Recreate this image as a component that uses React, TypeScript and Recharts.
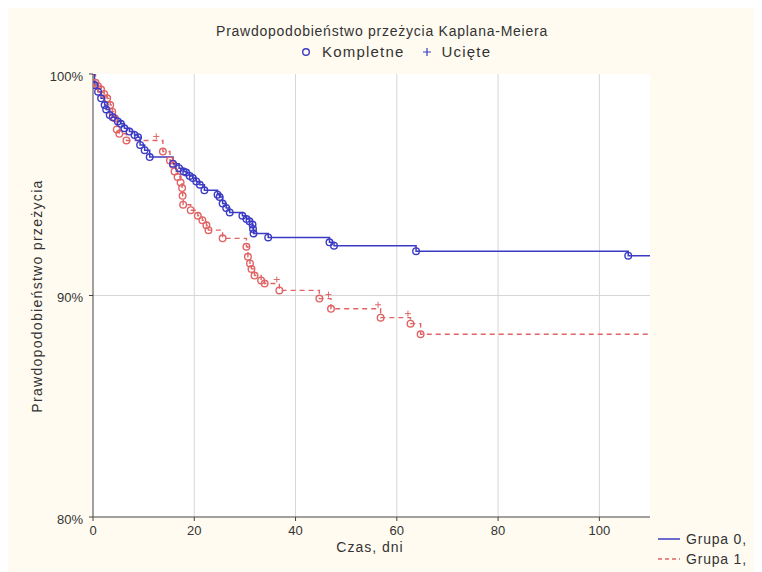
import React from "react";
import {
  ComposedChart,
  Line,
  XAxis,
  YAxis,
  CartesianGrid,
} from "recharts";

// Grupa 0 (solid blue)
const times0 = [
  0, 0.3, 1.0, 1.6, 2.3, 2.6, 3.3, 3.9, 4.9, 5.5, 6.2, 7.2, 8.2, 8.9, 9.3,
  10.2, 11.2, 15.8, 17.0, 17.9, 18.4, 19.1, 19.7, 20.4, 21.1, 22.0, 24.6,
  25.0, 25.6, 26.3, 27.0, 29.5, 30.3, 30.9, 31.5, 31.6, 31.7, 34.6, 46.7,
  47.6, 63.8, 105.7, 110,
];
const surv0 = [
  100, 99.5, 99.2, 98.9, 98.6, 98.4, 98.15, 98.05, 97.85, 97.75, 97.55, 97.4,
  97.25, 97.15, 96.8, 96.56, 96.25, 95.95, 95.75, 95.6, 95.55, 95.4, 95.3,
  95.15, 95.0, 94.75, 94.55, 94.45, 94.15, 93.95, 93.75, 93.6, 93.45, 93.35,
  93.2, 93.0, 92.8, 92.62, 92.4, 92.25, 92.0, 91.8, 91.8,
];
const kind0 = [
  "s", "o", "o", "o", "o", "o", "o", "o", "o", "o", "o", "o", "o", "o", "o",
  "o", "o", "o", "o", "o", "o", "o", "o", "o", "o", "o", "o", "o", "o", "o",
  "o", "o", "o", "o", "o", "o", "o", "o", "o", "o", "o", "o", "e",
];

// Grupa 1 (dashed red)
const times1 = [
  0, 0.5, 1.0, 1.6, 2.2, 2.8, 3.4, 3.8, 4.3, 4.7, 5.2, 6.6, 12.5, 13.8, 15.2,
  15.8, 16.1, 16.7, 17.3, 17.6, 17.7, 17.8, 19.3, 20.7, 21.6, 22.4, 22.8,
  25.6, 30.3, 30.6, 31.0, 31.3, 31.9, 33.2, 33.9, 36.3, 36.8, 44.7, 46.5,
  47.0, 56.3, 56.8, 62.2, 62.7, 64.7, 110,
];
const surv1 = [
  100, 99.6, 99.45, 99.3, 99.1, 98.9, 98.6, 98.3, 98.0, 97.5, 97.3, 97.0, 97.0,
  96.5, 96.1, 95.9, 95.6, 95.35, 95.1, 94.85, 94.5, 94.1, 93.85, 93.6, 93.4,
  93.17, 92.95, 92.58, 92.2, 91.75, 91.45, 91.2, 90.9, 90.68, 90.54, 90.54,
  90.23, 89.86, 89.86, 89.4, 89.4, 89.0, 89.0, 88.73, 88.25, 88.25,
];
const kind1 = [
  "s", "o", "o", "o", "o", "o", "o", "o", "o", "o", "o", "o", "c", "o", "o",
  "o", "o", "o", "o", "o", "o", "o", "o", "o", "o", "o", "o", "o", "o", "o",
  "o", "o", "o", "o", "o", "c", "o", "o", "c", "o", "c", "o", "c", "o", "o",
  "e",
];

const xDomain = [0, 110];
const yDomain = [80, 100];
const xTicks = [0, 20, 40, 60, 80, 100];
const yTicks = [80, 90, 100];
const xGrid = [20, 40, 60, 80, 100];
const yGrid = [90];

const group0 = times0.map((t, i) => ({ t, s: surv0[i], k: kind0[i] }));
const group1 = times1.map((t, i) => ({ t, s: surv1[i], k: kind1[i] }));

const BLUE = "#3b3bc4";
const RED = "#e06464";
const FONT = '"Liberation Sans", Arial, sans-serif';

const makeDot = (color: string) => (props: any) => {
  const { cx, cy, index, payload } = props;
  if (payload.k === "o") {
    return (
      <circle
        key={"d" + index}
        cx={cx}
        cy={cy}
        r={3.3}
        fill="none"
        stroke={color}
        strokeWidth={1.4}
      />
    );
  }
  if (payload.k === "c") {
    return (
      <path
        key={"d" + index}
        d={`M${cx - 3},${cy - 4}h6M${cx},${cy - 7}v6`}
        stroke={color}
        strokeWidth={1}
        fill="none"
      />
    );
  }
  return <g key={"d" + index} />;
};

// grid only where the reference has it (no lines on the plot edges)
const hGrid = ({ offset }: any) =>
  yGrid.map(
    (v) =>
      offset.top +
      (offset.height * (yDomain[1] - v)) / (yDomain[1] - yDomain[0])
  );
const vGrid = ({ offset }: any) =>
  xGrid.map(
    (v) =>
      offset.left + (offset.width * (v - xDomain[0])) / (xDomain[1] - xDomain[0])
  );

export default function App() {
  return (
    <div
      style={{
        position: "relative",
        width: 754,
        height: 564,
        background: "#fffbf0",
        fontFamily: FONT,
        color: "#333",
      }}
    >
      <ComposedChart
        width={754}
        height={564}
        margin={{ top: 66, right: 112, bottom: 0, left: 0 }}
      >
        <CartesianGrid
          fill="#ffffff"
          stroke="#d6d6d6"
          horizontalCoordinatesGenerator={hGrid}
          verticalCoordinatesGenerator={vGrid}
        />
        <XAxis
          dataKey="t"
          type="number"
          domain={xDomain}
          ticks={xTicks}
          allowDataOverflow
          height={55}
          stroke="#444"
          tickSize={4}
          tickMargin={5}
          tick={{ fill: "#333", fontSize: 13, fontFamily: FONT }}
        />
        <YAxis
          type="number"
          domain={yDomain}
          ticks={yTicks}
          allowDataOverflow
          width={85}
          stroke="#444"
          tickSize={4}
          tickMargin={6}
          tickFormatter={(v: number) => v + "%"}
          tick={{ fill: "#333", fontSize: 13, fontFamily: FONT, dy: 2 }}
        />
        <Line
          data={group1}
          dataKey="s"
          type="stepAfter"
          stroke={RED}
          strokeWidth={1.4}
          strokeDasharray="5 4"
          dot={makeDot(RED)}
          activeDot={false}
          isAnimationActive={false}
        />
        <Line
          data={group0}
          dataKey="s"
          type="stepAfter"
          stroke={BLUE}
          strokeWidth={1.5}
          dot={makeDot(BLUE)}
          activeDot={false}
          isAnimationActive={false}
        />
      </ComposedChart>

      <div
        style={{
          position: "absolute",
          left: 0,
          width: 748,
          top: 15,
          textAlign: "center",
          fontSize: 14,
          letterSpacing: "0.75px",
          lineHeight: "16px",
        }}
      >
        Prawdopodobieństwo przeżycia Kaplana-Meiera
      </div>
      <div
        style={{
          position: "absolute",
          left: 292,
          top: 36,
          fontSize: 15,
          letterSpacing: "1.2px",
          lineHeight: "16px",
          display: "flex",
          alignItems: "center",
          whiteSpace: "nowrap",
        }}
      >
        <svg width={12} height={12} style={{ marginRight: 10 }}>
          <circle cx={6} cy={6} r={3.3} fill="none" stroke={BLUE} strokeWidth={1.4} />
        </svg>
        <span>Kompletne</span>
        <svg width={12} height={12} style={{ marginLeft: 16, marginRight: 9 }}>
          <path d="M2,6h8M6,2v8" stroke={BLUE} strokeWidth={1.2} />
        </svg>
        <span>Ucięte</span>
      </div>

      <div
        style={{
          position: "absolute",
          left: 29 - 150,
          top: 288 - 8,
          width: 300,
          textAlign: "center",
          fontSize: 14,
          letterSpacing: "1.3px",
          lineHeight: "16px",
          transform: "rotate(-90deg)",
        }}
      >
        Prawdopodobieństwo przeżycia
      </div>
      <div
        style={{
          position: "absolute",
          left: 262,
          width: 200,
          top: 531,
          textAlign: "center",
          fontSize: 14,
          letterSpacing: "1px",
          lineHeight: "16px",
        }}
      >
        Czas, dni
      </div>

      <div
        style={{
          position: "absolute",
          left: 650,
          top: 521,
          fontSize: 14,
          letterSpacing: "0.8px",
          lineHeight: "20px",
          whiteSpace: "nowrap",
        }}
      >
        <div style={{ display: "flex", alignItems: "center" }}>
          <svg width={24} height={10} style={{ marginRight: 4 }}>
            <line x1={0} y1={5} x2={22} y2={5} stroke={BLUE} strokeWidth={1.5} />
          </svg>
          Grupa 0,
        </div>
        <div style={{ display: "flex", alignItems: "center" }}>
          <svg width={24} height={10} style={{ marginRight: 4 }}>
            <line
              x1={0}
              y1={5}
              x2={22}
              y2={5}
              stroke={RED}
              strokeWidth={1.4}
              strokeDasharray="4 3"
            />
          </svg>
          Grupa 1,
        </div>
      </div>
    </div>
  );
}
